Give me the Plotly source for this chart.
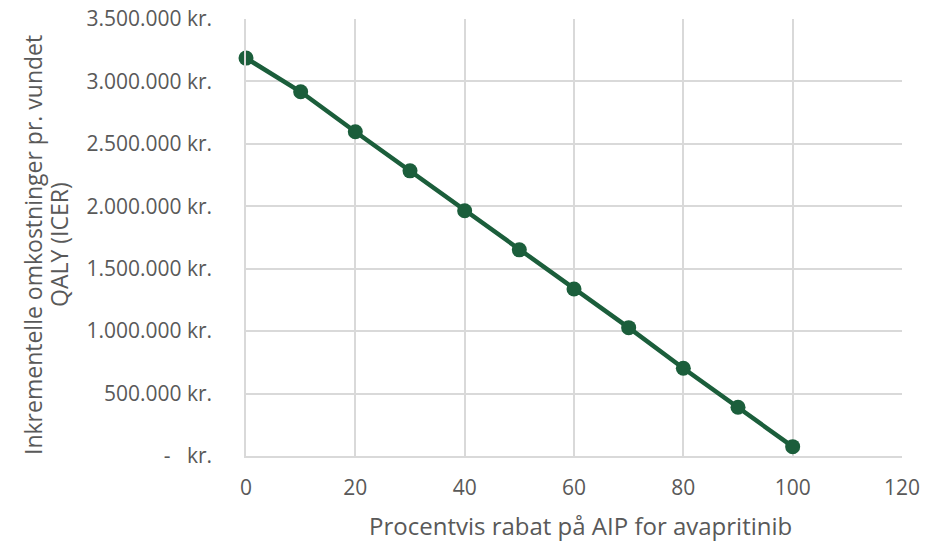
import plotly.graph_objects as go

rabat = [0, 10, 20, 30, 40, 50, 60, 70, 80, 90, 100]
icer = [3187000, 2917000, 2597000, 2284000, 1964000, 1651000, 1338000, 1028000, 703000, 390000, 75000]

y_tickvals = [0, 500000, 1000000, 1500000, 2000000, 2500000, 3000000, 3500000]
y_ticktext = ["-\u00a0\u00a0\u00a0kr.", "500.000 kr.", "1.000.000 kr.", "1.500.000 kr.",
              "2.000.000 kr.", "2.500.000 kr.", "3.000.000 kr.", "3.500.000 kr."]
x_tickvals = [0, 20, 40, 60, 80, 100, 120]

x_title = "Procentvis rabat på AIP for avapritinib"
y_title_1 = "Inkrementelle omkostninger pr. vundet"
y_title_2 = "QALY (ICER)"

green = "#1b5e3b"
grid = "#d9d9d9"
txt = "#595959"
font = "Open Sans"

fig = go.Figure()
fig.add_trace(go.Scatter(
    x=rabat, y=icer, mode="lines+markers",
    line=dict(color=green, width=4.5),
    marker=dict(color=green, size=15),
    showlegend=False, cliponaxis=False,
))

L, R, T, B = 246, 23, 19, 87
W, H = 925, 543
pw = W - L - R
ph = H - T - B

fig.update_layout(
    width=W, height=H,
    margin=dict(l=L, r=R, t=T, b=B, autoexpand=False),
    paper_bgcolor="white", plot_bgcolor="white",
    font=dict(family=font, color=txt, size=21),
    xaxis=dict(
        range=[0, 120], tickvals=x_tickvals, showgrid=True, gridcolor=grid, gridwidth=1.5,
        zeroline=False, showline=True, linecolor=grid, linewidth=2, automargin=False,
        ticklabelstandoff=12, tickfont=dict(size=21, color=txt), fixedrange=True,
    ),
    yaxis=dict(
        range=[0, 3500000], tickvals=y_tickvals, ticktext=y_ticktext,
        showgrid=True, gridcolor=grid, gridwidth=1.5, zeroline=False, automargin=False,
        showline=True, linecolor=grid, linewidth=1.5,
        ticklabelstandoff=28, tickfont=dict(size=21, color=txt), fixedrange=True,
    ),
    annotations=[
        dict(text=x_title, xref="paper", yref="paper", x=(580 - L) / pw, y=-(525 - (H - B)) / ph,
             xanchor="center", yanchor="middle", showarrow=False,
             font=dict(size=24, color=txt, family=font)),
        dict(text=y_title_1, xref="paper", yref="paper", x=(33 - L) / pw, y=(456 - 245) / ph,
             xanchor="center", yanchor="middle", showarrow=False, textangle=-90,
             font=dict(size=23, color=txt, family=font)),
        dict(text=y_title_2, xref="paper", yref="paper", x=(59 - L) / pw, y=(456 - 245) / ph,
             xanchor="center", yanchor="middle", showarrow=False, textangle=-90,
             font=dict(size=23, color=txt, family=font)),
    ],
)

fig.write_html("out.html")
